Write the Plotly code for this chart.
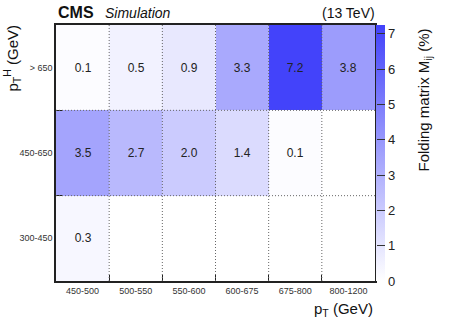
import plotly.graph_objects as go

x_bins = ["450-500", "500-550", "550-600", "600-675", "675-800", "800-1200"]
y_bins = ["300-450", "450-650", "> 650"]
row_300_450 = [0.3, None, None, None, None, None]
row_450_650 = [3.5, 2.7, 2.0, 1.4, 0.1, None]
row_650_up = [0.1, 0.5, 0.9, 3.3, 7.2, 3.8]
z = [row_300_450, row_450_650, row_650_up]
cbar_ticks = [0, 1, 2, 3, 4, 5, 6, 7]

FONT = "Liberation Sans, Arial, sans-serif"

fig = go.Figure(go.Heatmap(
    x=x_bins, y=y_bins, z=z,
    zmin=0, zmax=7.25,
    colorscale=[[0, "rgb(255,255,255)"], [1, "rgb(66,66,250)"]],
    texttemplate="%{z:.1f}",
    textfont=dict(family=FONT, size=12, color="#222"),
    hoverongaps=False,
    colorbar=dict(
        x=1.004, xanchor="left", xpad=0, thickness=9,
        y=0.5, yanchor="middle", len=1, lenmode="fraction", ypad=0,
        outlinewidth=0,
        tickvals=cbar_ticks, ticks="inside", ticklen=8, tickcolor="#333",
        tickfont=dict(family=FONT, size=13, color="#222"),
    ),
))

# dotted bin-boundary lines drawn above the cells (internal boundaries only)
dot_line = dict(color="#666", width=1, dash="1px,2px")
grid_shapes = []
for i in range(1, len(x_bins)):
    grid_shapes.append(dict(type="line", xref="x", yref="paper", x0=i - 0.5, x1=i - 0.5,
                            y0=0, y1=1, layer="above", line=dot_line))
for j in range(1, len(y_bins)):
    grid_shapes.append(dict(type="line", xref="paper", yref="y", x0=0, x1=1,
                            y0=j - 0.5, y1=j - 0.5, layer="above", line=dot_line))

axis_style = dict(
    type="category", tickson="boundaries", ticks="inside", ticklen=6,
    tickcolor="#222", showline=True, linecolor="#222", linewidth=1.5, mirror=True,
    showgrid=False, tickfont=dict(size=9, color="#333"), zeroline=False,
    layer="above traces",
)

fig.update_layout(
    width=452, height=322,
    margin=dict(l=56, r=77, t=25, b=41),
    paper_bgcolor="white", plot_bgcolor="white",
    font=dict(family=FONT, color="#222"),
    xaxis=axis_style,
    yaxis=axis_style,
    shapes=grid_shapes,
    annotations=[
        dict(text="<b>CMS</b>", x=0, y=1.0, xref="paper", yref="paper",
             xanchor="left", yanchor="bottom", yshift=2, showarrow=False,
             font=dict(size=16, color="#111")),
        dict(text="<i>Simulation</i>", x=0, y=1.0, xref="paper", yref="paper",
             xanchor="left", yanchor="bottom", xshift=47, yshift=2, showarrow=False,
             font=dict(size=14, color="#111")),
        dict(text="(13 TeV)", x=1, y=1.0, xref="paper", yref="paper",
             xanchor="right", yanchor="bottom", xshift=2, yshift=2, showarrow=False,
             font=dict(size=14, color="#111")),
        dict(text="p<sub>T</sub> (GeV)", x=1, y=0, xref="paper", yref="paper",
             xanchor="right", yanchor="top", yshift=-17, showarrow=False,
             font=dict(size=15, color="#111")),
        dict(text="p<sub>T</sub><sup>H</sup> (GeV)", x=0, y=1, xref="paper", yref="paper",
             xanchor="center", yanchor="top", xshift=-44, yshift=2, textangle=-90, showarrow=False,
             font=dict(size=15, color="#111")),
        dict(text="Folding matrix M<sub>ij</sub> (%)", x=1, y=1, xref="paper", yref="paper",
             xanchor="center", yanchor="top", xshift=49, yshift=-2, textangle=-90, showarrow=False,
             font=dict(size=15, color="#111")),
    ],
)

fig.write_html("out.html")
